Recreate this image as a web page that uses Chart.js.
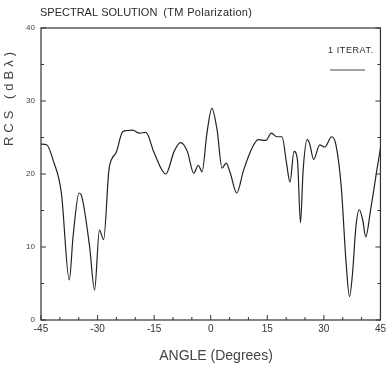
<!DOCTYPE html>
<html><head><meta charset="utf-8">
<script src="https://cdn.jsdelivr.net/npm/chart.js@4/dist/chart.umd.min.js"></script>
<style>html,body{margin:0;padding:0;background:#fff}#wrap{width:389px;height:371px}</style>
</head><body><div id="wrap"><canvas id="c" width="389" height="371"></canvas></div>
<script>
const angles = [-45,-43.5,-41.8,-39.6,-37.5,-36.5,-34.9,-34.3,-32.1,-30.8,-29.5,-28.4,-27,-26.1,-25.1,-23.3,-20.7,-18.9,-17.2,-15,-11.9,-9.7,-8,-6.2,-4.5,-3.3,-2.3,-1,0.3,1.7,3,4.1,5.2,6.9,8.7,10.9,12.6,14.6,16.1,17.5,18.9,20.1,21,22.1,23,23.8,24.5,25.6,26.2,27.3,28.9,30.2,32.1,33.2,34.6,35.9,36.8,37.6,38.5,39.4,40.3,41.1,42.4,44.2,45];
const rcs = [24.1,24.0,21.9,17.4,5.5,11.4,17.4,17.1,10,4.1,12.3,11,20.5,22.2,22.9,25.8,26.0,25.6,25.7,22.9,20,23.1,24.3,23.1,20.1,21.2,20.3,25.6,29.0,26,20.8,21.5,20.1,17.4,20.5,23.5,24.7,24.6,25.6,25.1,25.1,21.5,18.9,23.1,21.9,13.3,20.5,24.7,24.2,22.0,24.0,23.7,25.1,24.0,18.3,7.8,3.2,6.4,12.8,15.1,13.7,11.4,15.1,21,23.5];
const xTicks = [-45,-30,-15,0,15,30,45];
const yTicks = [0,10,20,30,40];
const titleText = "SPECTRAL SOLUTION";
const subTitleText = "(TM Polarization)";
const yTitle = "RCS (dBλ)";
const xTitle = "ANGLE (Degrees)";
const legendText = "1 ITERAT.";

const ink = '#2a2a2a';
const deco = {
  id:'deco',
  afterDraw(chart){
    const {ctx, chartArea:a, scales:{x,y}} = chart;
    ctx.save();
    ctx.strokeStyle = '#333'; ctx.lineWidth = 1.2;
    ctx.strokeRect(a.left, a.top, a.right-a.left, a.bottom-a.top);
    ctx.lineWidth = 1;
    for(let v=-45; v<=45; v+=5){
      const px = x.getPixelForValue(v);
      const len = (v%15===0)?5:3;
      ctx.beginPath(); ctx.moveTo(px,a.bottom); ctx.lineTo(px,a.bottom-len); ctx.stroke();
    }
    for(let v=0; v<=40; v+=5){
      const py = y.getPixelForValue(v);
      const len = (v%10===0)?5:3;
      ctx.beginPath(); ctx.moveTo(a.left,py); ctx.lineTo(a.left+len,py); ctx.stroke();
      ctx.beginPath(); ctx.moveTo(a.right,py); ctx.lineTo(a.right-len,py); ctx.stroke();
    }
    ctx.fillStyle = ink;
    ctx.textBaseline = 'middle';
    ctx.font = '11px "Liberation Sans", Arial, sans-serif';
    ctx.textAlign = 'left';
    ctx.fillText(titleText, 40, 13);
    const w = ctx.measureText(titleText).width;
    ctx.font = '11px "Liberation Sans", Arial, sans-serif';
    ctx.letterSpacing = '0.3px';
    ctx.fillText(subTitleText, 40 + w + 6, 13);
    ctx.letterSpacing = '0px';
    ctx.font = '14px "Liberation Sans", Arial, sans-serif';
    ctx.textAlign = 'center';
    ctx.fillStyle = '#444';
    ctx.fillText(xTitle, 216, 356);
    ctx.save();
    ctx.translate(9, 99); ctx.rotate(-Math.PI/2);
    ctx.letterSpacing = '4px';
    ctx.font = '13px "Liberation Sans", Arial, sans-serif';
    ctx.fillText(yTitle, 2, 0);
    ctx.restore();
    ctx.fillStyle = ink;
    ctx.font = '9px "Liberation Sans", Arial, sans-serif';
    ctx.letterSpacing = '0.6px';
    ctx.textAlign = 'left';
    ctx.fillText(legendText, 328, 51);
    ctx.letterSpacing = '0px';
    ctx.strokeStyle = '#444'; ctx.lineWidth = 1;
    ctx.beginPath(); ctx.moveTo(330, 70); ctx.lineTo(365, 70); ctx.stroke();
    ctx.restore();
  }
};

new Chart(document.getElementById('c'), {
  type:'line',
  data:{datasets:[{
    data: angles.map((a,i)=>({x:a,y:rcs[i]})),
    borderColor:'#222', borderWidth:1.2, pointRadius:0, tension:0.4, cubicInterpolationMode:'monotone', fill:false
  }]},
  options:{
    responsive:false, animation:false,
    layout:{padding:{top:28,right:7,left:0,bottom:0}},
    plugins:{legend:{display:false}, tooltip:{enabled:false}},
    scales:{
      x:{type:'linear', min:-45, max:45,
        afterBuildTicks(s){ s.ticks = xTicks.map(v=>({value:v})); },
        afterFit(s){ s.height = 51; },
        grid:{display:false, drawTicks:false}, border:{display:false},
        ticks:{padding:3, color:'#333', font:{size:10, family:'"Liberation Sans", Arial, sans-serif'}, maxRotation:0, autoSkip:false}
      },
      y:{min:0, max:40,
        afterBuildTicks(s){ s.ticks = yTicks.map(v=>({value:v})); },
        afterFit(s){ s.width = 41; },
        grid:{display:false, drawTicks:false}, border:{display:false},
        ticks:{padding:6, color:'#444', font:{size:8, family:'"Liberation Sans", Arial, sans-serif'}}
      }
    }
  },
  plugins:[deco]
});
</script>
</body></html>
